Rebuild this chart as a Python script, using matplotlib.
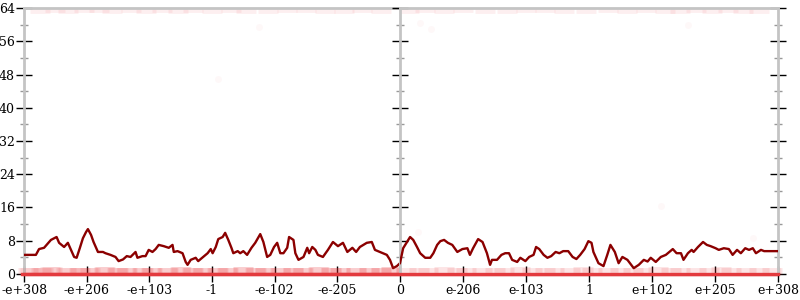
import matplotlib
matplotlib.use("Agg")
import matplotlib.pyplot as plt
from matplotlib.ticker import MultipleLocator

# tick positions and their labels (symmetric pseudo-log scale)
tick_pos = [-6, -5, -4, -3, -2, -1, 0, 1, 2, 3, 4, 5, 6]
tick_labels = ['-e+308', '-e+206', '-e+103', '-1', '-e-102', '-e-205', '0',
               'e-206', 'e-103', '1', 'e+102', 'e+205', 'e+308']

# main running curve
line_x = [-6.0, -5.81, -5.76, -5.68, -5.57, -5.48, -5.44, -5.36, -5.30, -5.25,
          -5.20, -5.16, -5.11, -5.06, -5.01, -4.98, -4.93, -4.89, -4.82, -4.74,
          -4.70, -4.62, -4.54, -4.49, -4.42, -4.36, -4.30, -4.22, -4.19, -4.11,
          -4.06, -4.01, -3.95, -3.90, -3.85, -3.77, -3.69, -3.63, -3.61, -3.55,
          -3.47, -3.42, -3.39, -3.34, -3.26, -3.22, -3.14, -3.07, -3.02, -2.99,
          -2.94, -2.90, -2.83, -2.79, -2.74, -2.69, -2.66, -2.59, -2.55, -2.50,
          -2.44, -2.37, -2.31, -2.23, -2.18, -2.12, -2.07, -2.01, -1.96, -1.91,
          -1.86, -1.80, -1.77, -1.70, -1.67, -1.62, -1.54, -1.48, -1.45, -1.40,
          -1.35, -1.31, -1.23, -1.15, -1.07, -0.99, -0.91, -0.84, -0.76, -0.70,
          -0.64, -0.53, -0.45, -0.40, -0.32, -0.21, -0.16, -0.11, -0.05, 0.0,
          0.05, 0.11, 0.16, 0.21, 0.27, 0.32, 0.40, 0.48, 0.53, 0.59,
          0.64, 0.70, 0.76, 0.83, 0.91, 0.99, 1.07, 1.11, 1.16, 1.24,
          1.31, 1.38, 1.43, 1.46, 1.54, 1.61, 1.67, 1.73, 1.78, 1.86,
          1.91, 1.99, 2.05, 2.12, 2.16, 2.21, 2.28, 2.34, 2.40, 2.47,
          2.53, 2.59, 2.67, 2.74, 2.80, 2.86, 2.93, 2.99, 3.04, 3.07,
          3.15, 3.23, 3.29, 3.34, 3.41, 3.47, 3.53, 3.61, 3.71, 3.79,
          3.87, 3.93, 3.98, 4.06, 4.14, 4.22, 4.33, 4.39, 4.46, 4.50,
          4.57, 4.63, 4.66, 4.73, 4.81, 4.87, 4.93, 5.01, 5.06, 5.14,
          5.22, 5.28, 5.35, 5.41, 5.48, 5.54, 5.60, 5.65, 5.73, 5.78, 6.0]
line_y = [4.6, 4.6, 6.0, 6.3, 8.2, 8.9, 7.5, 6.5, 7.5, 5.8,
          4.1, 3.9, 6.2, 8.6, 10.1, 10.8, 9.4, 7.7, 5.3, 5.3,
          5.0, 4.6, 4.1, 3.1, 3.5, 4.3, 4.1, 5.3, 3.9, 4.3,
          4.3, 5.8, 5.3, 6.0, 7.0, 6.7, 6.3, 7.0, 5.3, 5.5,
          5.0, 2.9, 2.2, 3.4, 3.9, 3.1, 4.1, 5.0, 6.0, 5.0,
          6.5, 8.4, 8.9, 9.9, 8.2, 6.3, 5.0, 5.5, 5.0, 5.5,
          4.6, 6.3, 7.5, 9.6, 7.7, 4.1, 4.6, 6.5, 7.5, 5.0,
          5.0, 6.3, 8.9, 8.2, 5.0, 3.4, 4.1, 6.3, 5.0, 6.5,
          5.8, 4.6, 4.1, 5.8, 7.7, 6.7, 7.5, 5.3, 6.3, 5.3,
          6.5, 7.5, 7.7, 5.8, 5.3, 4.6, 3.4, 1.4, 1.9, 2.6,
          6.2, 7.7, 8.9, 8.2, 6.5, 5.0, 3.9, 3.9, 5.0, 7.0,
          7.9, 8.2, 7.5, 7.0, 5.3, 6.0, 6.2, 4.6, 6.2, 8.4,
          7.7, 5.0, 2.2, 3.4, 3.4, 4.6, 5.0, 5.0, 3.4, 2.9,
          3.9, 3.1, 4.1, 4.6, 6.5, 6.0, 4.6, 3.9, 4.3, 5.3,
          5.0, 5.5, 5.5, 4.1, 3.6, 4.6, 6.0, 7.9, 7.5, 5.3,
          2.6, 1.9, 4.6, 7.0, 5.3, 2.6, 4.1, 3.4, 1.4, 2.2,
          3.4, 3.0, 3.9, 2.9, 4.1, 4.6, 6.0, 5.0, 5.0, 3.4,
          5.0, 5.8, 5.3, 6.5, 7.7, 7.0, 6.7, 6.2, 5.8, 6.2,
          6.0, 4.6, 5.8, 5.0, 6.2, 5.8, 6.2, 5.0, 5.8, 5.5, 5.5]

# faint samples hugging the floor
floor_x = [-5.9, -5.7, -5.55, -5.3, -5.1, -4.95, -4.7, -4.5, -4.35, -4.1,
           -3.95, -3.7, -3.5, -3.3, -3.15, -2.9, -2.75, -2.5, -2.3, -2.15,
           -1.9, -1.7, -1.55, -1.3, -1.1, -0.95, -0.7, -0.5, -0.3, -0.15,
           0.1, 0.3, 0.45, 0.7, 0.9, 1.05, 1.3, 1.5, 1.65, 1.9,
           2.1, 2.3, 2.45, 2.7, 2.9, 3.05, 3.3, 3.5, 3.7, 3.85,
           4.1, 4.3, 4.45, 4.7, 4.9, 5.1, 5.25, 5.5, 5.7, 5.9]
floor_y = [0.8, 0.6, 0.9, 0.7, 0.8, 0.6, 0.9, 0.7, 0.6, 0.8,
           0.8, 0.6, 0.9, 0.7, 0.8, 0.6, 0.8, 0.9, 0.6, 0.8,
           0.8, 0.6, 0.7, 0.9, 0.6, 0.8, 0.8, 0.7, 0.6, 0.9,
           0.8, 0.6, 0.8, 0.9, 0.7, 0.6, 0.8, 0.8, 0.6, 0.9,
           0.7, 0.8, 0.6, 0.8, 0.9, 0.6, 0.8, 0.7, 0.8, 0.6,
           0.9, 0.8, 0.6, 0.8, 0.7, 0.9, 0.6, 0.8, 0.8, 0.7]
zero_x = [-6, 6]
zero_y = [0, 0]

# faint samples hugging the ceiling
ceil_x = [-5.75, -5.5, -5.3, -5.05, -4.8, -4.6, -4.3, -4.05, -3.8, -3.55,
          -3.3, -3.0, -2.7, -2.45, -2.1, -1.8, -1.5, -1.2, -0.9, -0.6,
          -0.3, 0.15, 0.4, 0.7, 1.0, 1.35, 1.7, 2.0, 2.3, 2.6,
          2.95, 3.3, 3.6, 3.9, 4.2, 4.45, 4.7, 4.95, 5.2, 5.45, 5.7]
ceil_y = [63.4, 63.6, 63.3, 63.5, 63.6, 63.3, 63.5, 63.3, 63.6, 63.4,
          63.5, 63.3, 63.6, 63.4, 63.3, 63.5, 63.6, 63.3, 63.4, 63.5,
          63.3, 63.4, 63.6, 63.3, 63.5, 63.4, 63.3, 63.6, 63.5, 63.3,
          63.4, 63.6, 63.3, 63.5, 63.3, 63.4, 63.6, 63.3, 63.5, 63.4, 63.3]

# a few stray samples
stray_x = [0.32, 0.49, 4.57, 0.29, 4.15, 5.6, -2.9, -2.25]
stray_y = [60.4, 59.0, 59.9, 10.1, 16.4, 8.7, 47.0, 59.5]

plt.rcParams['font.family'] = 'DejaVu Serif'

fig = plt.figure(figsize=(8, 3), dpi=100)
ax_l = fig.add_axes([0.03, 0.0867, 0.47, 0.8866])
ax_r = fig.add_axes([0.50, 0.0867, 0.4725, 0.8866])

spine_col = '#c4c4c4'
for ax, lim in ((ax_l, (-6, 0)), (ax_r, (0, 6))):
    ax.plot(floor_x, floor_y, '_', color='#e8282d', alpha=0.12, ms=15, mew=5,
            clip_on=False)
    ax.plot(zero_x, zero_y, color='#e33a3e', lw=2.4, clip_on=False, zorder=3)
    ax.plot(ceil_x, ceil_y, '_', color='#e8282d', alpha=0.07, ms=14, mew=3.5)
    ax.plot(stray_x, stray_y, 'o', color='#e8282d', alpha=0.03, ms=5, mew=0)
    ax.plot(line_x, line_y, color='#8b0000', lw=1.7, zorder=4)
    ax.set_xlim(*lim)
    ax.set_ylim(0, 64)
    ax.yaxis.set_major_locator(MultipleLocator(8))
    ax.yaxis.set_minor_locator(MultipleLocator(4))
    for s in ax.spines.values():
        s.set_color(spine_col)
        s.set_linewidth(2)
    ax.spines['bottom'].set_visible(False)
    ax.tick_params(axis='y', which='major', direction='inout', length=11,
                   width=1, color='black', labelsize=9, pad=1)
    ax.tick_params(axis='y', which='minor', direction='inout', length=6,
                   width=1, color='#999999')
    ax.tick_params(axis='x', which='major', direction='inout', length=12,
                   width=1, color='black', labelsize=9, pad=1)

ax_l.spines['right'].set_visible(False)
ax_l.set_xticks(tick_pos[:7])
# leftmost label is drawn separately so it stays inside the canvas
ax_l.set_xticklabels([''] + tick_labels[1:7])
ax_r.set_xticks(tick_pos[7:])
ax_r.set_xticklabels(tick_labels[7:])
ax_r.tick_params(axis='y', which='both', left=True, right=True,
                 labelleft=False)
ax_l.annotate(tick_labels[0], xy=(tick_pos[0], 0),
              xycoords=('data', 'axes fraction'),
              xytext=(-23, -9.7), textcoords='offset pixels',
              ha='left', va='top', fontsize=9, annotation_clip=False)

fig.savefig('out.png', dpi=100)
